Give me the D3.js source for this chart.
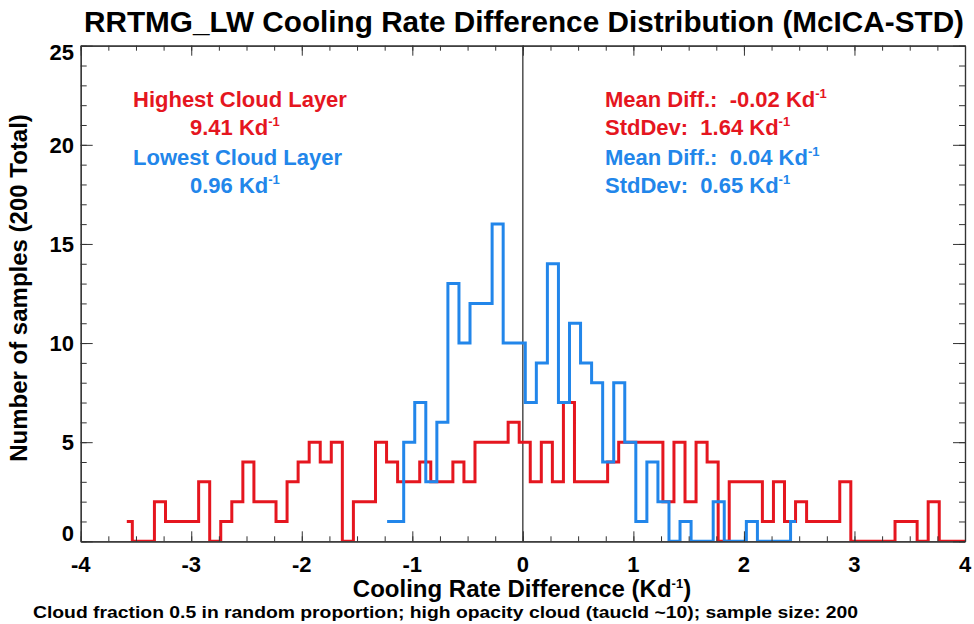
<!DOCTYPE html>
<html>
<head>
<meta charset="utf-8">
<script src="https://cdn.jsdelivr.net/npm/d3@7"></script>
<style>
  body { margin: 0; background: #fff; }
  text { font-family: "Liberation Sans", Arial, sans-serif; font-weight: bold; white-space: pre; }
</style>
</head>
<body>
<svg id="chart"></svg>
<script>
// histogram bins (IDL psym=10 style, value plotted at bin location)
const binWidth = 0.1;
const redStart = -3.583;   // highest cloud layer
const blueStart = -1.228;  // lowest cloud layer
const redCounts = [
  1, 0, 0, 2, 1, 1, 1, 3, 0, 1,
  2, 4, 2, 2, 1, 3, 4, 5, 4, 5,
  0, 2, 2, 5, 4, 3, 3, 4, 3, 3,
  4, 3, 5, 5, 5, 6, 5, 3, 5, 3,
  7, 3, 3, 3, 4, 5, 5, 5, 5, 2,
  5, 2, 5, 4, 0, 3, 3, 3, 1, 3,
  1, 2, 1, 1, 1, 3, 0, 0, 0, 0,
  1, 1, 0, 2, 0, 0, 0
];
const blueCounts = [
  1, 1, 5, 7, 3, 6, 13, 10, 12, 12,
  16, 10, 10, 7, 9, 14, 7, 11, 9, 8,
  4, 8, 5, 1, 4, 2, 0, 1, 0, 0,
  2, 0, 0, 1, 0, 0, 0, 1
];
const xTicks = [-4, -3, -2, -1, 0, 1, 2, 3, 4];
const yTicks = [0, 5, 10, 15, 20, 25];
const legendLeft = [
  { text: 'Highest Cloud Layer', sup: null, series: 'red', indent: false },
  { text: '9.41 Kd', sup: '-1', series: 'red', indent: true },
  { text: 'Lowest Cloud Layer', sup: null, series: 'blue', indent: false },
  { text: '0.96 Kd', sup: '-1', series: 'blue', indent: true }
];
const legendRight = [
  { text: 'Mean Diff.:  -0.02 Kd', sup: '-1', series: 'red' },
  { text: 'StdDev:  1.64 Kd', sup: '-1', series: 'red' },
  { text: 'Mean Diff.:  0.04 Kd', sup: '-1', series: 'blue' },
  { text: 'StdDev:  0.65 Kd', sup: '-1', series: 'blue' }
];

const colors = { red: '#e5161f', blue: '#2286ea' };

const dim = { width: 974, height: 624 };
const plot = { left: 80.7, right: 965, top: 45.7, bottom: 541.3 };

const svg = d3.select('#chart')
  .attr('width', dim.width)
  .attr('height', dim.height);

const x = d3.scaleLinear().domain([-4, 4]).range([plot.left, plot.right]);
const y = d3.scaleLinear().domain([0, 25]).range([plot.bottom, plot.top]);

// title (IDL font is narrow, so squeeze a taller font into the same width)
svg.append('text')
  .attr('x', 524)
  .attr('y', 32)
  .attr('text-anchor', 'middle')
  .attr('font-size', 29)
  .attr('textLength', 880)
  .attr('lengthAdjust', 'spacingAndGlyphs')
  .text('RRTMG_LW Cooling Rate Difference Distribution (McICA-STD)');

// clip for the histograms
svg.append('clipPath')
  .attr('id', 'plot-clip')
  .append('rect')
  .attr('x', plot.left)
  .attr('y', plot.top)
  .attr('width', plot.right - plot.left)
  .attr('height', plot.bottom - plot.top);

// zero line
svg.append('line')
  .attr('x1', x(0)).attr('x2', x(0))
  .attr('y1', plot.top).attr('y2', plot.bottom)
  .attr('stroke', '#222')
  .attr('stroke-width', 1.2);

// histograms
const step = d3.line()
  .x(d => x(d.x))
  .y(d => y(d.y))
  .curve(d3.curveStep);

const toPoints = (start, counts) => counts.map((v, i) => ({ x: start + i * binWidth, y: v }));

[['red', redStart, redCounts], ['blue', blueStart, blueCounts]].forEach(([name, start, counts]) => {
  svg.append('path')
    .attr('clip-path', 'url(#plot-clip)')
    .attr('d', step(toPoints(start, counts)))
    .attr('fill', 'none')
    .attr('stroke', colors[name])
    .attr('stroke-width', 3)
    .attr('stroke-linejoin', 'miter');
});

// axes: major and minor ticks on all four sides
const minorX = d3.range(-4, 4.001, 0.25);
const minorY = d3.range(0, 25.001, 1);

function drawAxis(axis, transform) {
  const g = svg.append('g').attr('transform', transform).call(axis);
  g.selectAll('text').remove();
  g.selectAll('line').attr('stroke', '#333');
  g.select('.domain').attr('stroke', '#333').attr('stroke-width', 1.2);
  return g;
}

drawAxis(d3.axisBottom(x).tickValues(minorX).tickSize(-5).tickSizeOuter(0), `translate(0,${plot.bottom})`);
drawAxis(d3.axisBottom(x).tickValues(xTicks).tickSize(-10).tickSizeOuter(0), `translate(0,${plot.bottom})`);
drawAxis(d3.axisTop(x).tickValues(minorX).tickSize(-5).tickSizeOuter(0), `translate(0,${plot.top})`);
drawAxis(d3.axisTop(x).tickValues(xTicks).tickSize(-10).tickSizeOuter(0), `translate(0,${plot.top})`);
drawAxis(d3.axisLeft(y).tickValues(minorY).tickSize(-6).tickSizeOuter(0), `translate(${plot.left},0)`);
drawAxis(d3.axisLeft(y).tickValues(yTicks).tickSize(-12).tickSizeOuter(0), `translate(${plot.left},0)`);
drawAxis(d3.axisRight(y).tickValues(minorY).tickSize(-6).tickSizeOuter(0), `translate(${plot.right},0)`);
drawAxis(d3.axisRight(y).tickValues(yTicks).tickSize(-12).tickSizeOuter(0), `translate(${plot.right},0)`);

// tick labels
svg.append('g').selectAll('text')
  .data(xTicks)
  .join('text')
  .attr('x', d => x(d))
  .attr('y', 572)
  .attr('text-anchor', 'middle')
  .attr('font-size', 22)
  .text(d => d);

// end labels are pulled inside like IDL does
const yLabelShift = v => (v === 0 ? -8 : (v === 25 ? 6 : 0));
svg.append('g').selectAll('text')
  .data(yTicks)
  .join('text')
  .attr('x', 74)
  .attr('y', d => y(d) + 8 + yLabelShift(d))
  .attr('text-anchor', 'end')
  .attr('font-size', 22)
  .text(d => d);

// axis titles
const xTitle = svg.append('text')
  .attr('x', 522)
  .attr('y', 597)
  .attr('text-anchor', 'middle')
  .attr('font-size', 24);
xTitle.append('tspan').text('Cooling Rate Difference (Kd');
xTitle.append('tspan').attr('font-size', 13).attr('dy', -9).text('-1');
xTitle.append('tspan').attr('dy', 9).text(')');

svg.append('text')
  .attr('transform', 'translate(27,288) rotate(-90)')
  .attr('text-anchor', 'middle')
  .attr('font-size', 24)
  .text('Number of samples (200 Total)');

// footer note
svg.append('text')
  .attr('x', 33)
  .attr('y', 618)
  .attr('font-size', 16)
  .attr('textLength', 825)
  .attr('lengthAdjust', 'spacingAndGlyphs')
  .text('Cloud fraction 0.5 in random proportion; high opacity cloud (taucld ~10); sample size: 200');

// legends
function addLegendLine(item, xPos, yPos) {
  const t = svg.append('text')
    .attr('x', xPos)
    .attr('y', yPos)
    .attr('font-size', 22)
    .attr('fill', colors[item.series]);
  t.append('tspan').text(item.text);
  if (item.sup) {
    t.append('tspan').attr('font-size', 13).attr('dy', -9).text(item.sup);
  }
}

const lineY = [107, 135, 165, 193];
legendLeft.forEach((item, i) => addLegendLine(item, item.indent ? 190 : 133, lineY[i]));
legendRight.forEach((item, i) => addLegendLine(item, 605, lineY[i]));
</script>
</body>
</html>
